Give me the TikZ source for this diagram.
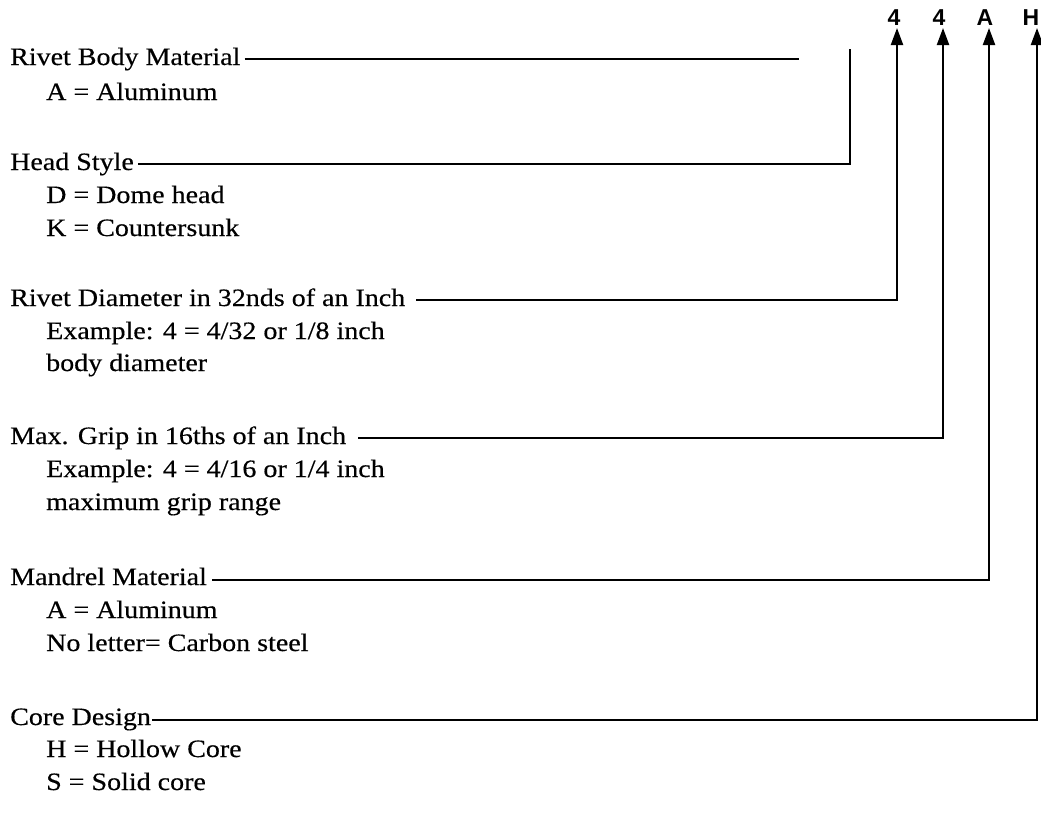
\documentclass[tikz,border=0pt]{standalone}
\usepackage{fontspec}
\setmainfont{Liberation Serif}[FakeStretch=1.12,FakeBold=0.4]
\newfontfamily\codefont{Liberation Sans}
\usetikzlibrary{arrows.meta}

\begin{document}
\begin{tikzpicture}[x=1pt,y=-1pt,
  txt/.style={anchor=base west,inner sep=0pt,font=\fontsize{25}{29}\selectfont},
  code/.style={anchor=base,inner sep=0pt,font=\codefont\bfseries\fontsize{23}{27}\selectfont},
  lead/.style={line width=2.2pt},
  tip/.style={lead,-{Triangle[width=12pt,length=17pt]}}]
\useasboundingbox (0,0) rectangle (1041,814);
% code letters
\node[code] (dia) at (894,25) {4};
\node[code] (grip) at (939,25) {4};
\node[code] (mand) at (985,25) {A};
\node[code] (core) at (1031,25) {H};
\coordinate (diatip) at (897,28);
\coordinate (griptip) at (943,28);
\coordinate (mandtip) at (989,28);
\coordinate (coretip) at (1037,28);
%% rivet body material
\node[txt] (body) at (10,65) {Rivet Body Material};
\node[txt] (bodyA) at (46,100) {A = Aluminum};
\coordinate (bodyend) at (799,59);
\draw[lead] ([shift={(4,-6)}]body.base east) -- (bodyend);
%% head style
\node[txt] (head) at (10,170) {Head Style};
\node[txt] (headD) at (46,203) {D = Dome head};
\node[txt] (headK) at (46,236) {K = Countersunk};
\coordinate (headend) at (850,49);
\draw[lead] ([shift={(4,-6)}]head.base east) -| (headend);
%% diameter
\node[txt] (diam) at (10,306) {Rivet Diameter in 32nds of an Inch};
\node[txt] (diamA) at (46,339) {Example: 4 = 4/32 or 1/8 inch};
\node[txt] (diamB) at (46,371) {body diameter};
\draw[tip] ([shift={(11,-6)}]diam.base east) -| (diatip);
%% grip
\node[txt] (max) at (10,444) {Max. Grip in 16ths of an Inch};
\node[txt] (maxA) at (46,477) {Example: 4 = 4/16 or 1/4 inch};
\node[txt] (maxB) at (46,510) {maximum grip range};
\draw[tip] ([shift={(12,-6)}]max.base east) -| (griptip);
%% mandrel
\node[txt] (mandrel) at (10,585) {Mandrel Material};
\node[txt] (mandrelA) at (46,618) {A = Aluminum};
\node[txt] (mandrelB) at (46,651) {No letter= Carbon steel};
\draw[tip] ([shift={(5,-5)}]mandrel.base east) -| (mandtip);
%% core
\node[txt] (cored) at (10,725) {Core Design};
\node[txt] (coredH) at (46,757) {H = Hollow Core};
\node[txt] (coredS) at (46,790) {S = Solid core};
\draw[tip] ([shift={(1,-5)}]cored.base east) -| (coretip);
\end{tikzpicture}
\end{document}
